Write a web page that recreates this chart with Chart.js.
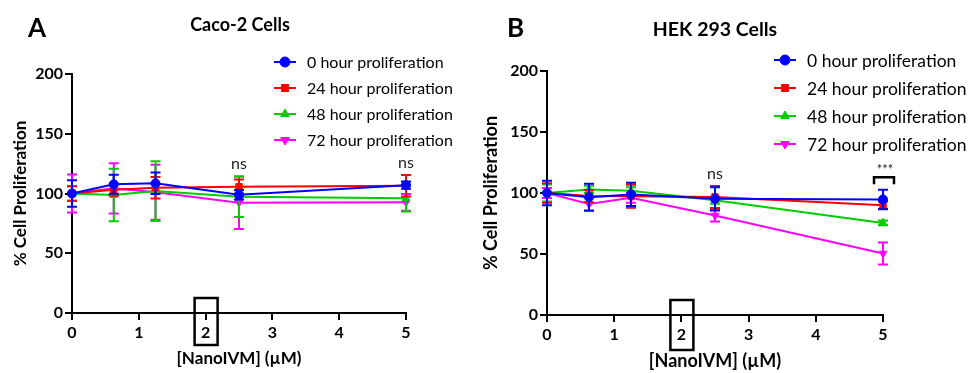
<!DOCTYPE html>
<html lang="en">
<head>
  <meta charset="UTF-8">
  <title>NanoIVM cell proliferation</title>
  <style>
    body { margin: 0; background: #fff; }
    .panel { position: absolute; top: 0; }
    #panelA { left: 0; }
    #panelB { left: 478px; }
  </style>
  <script src="https://cdn.jsdelivr.net/npm/chart.js"></script>
</head>
<body>
  <div class="panel" id="panelA"><canvas id="cacoChart" width="487" height="373"></canvas></div>
  <div class="panel" id="panelB"><canvas id="hekChart" width="496" height="373"></canvas></div>

  <script>
    // NanoIVM concentrations (µM)
    const doses = [0, 0.625, 1.25, 2.5, 5];
    const seriesNames = ['0 hour proliferation', '24 hour proliferation', '48 hour proliferation', '72 hour proliferation'];
    const xTicks = [0, 1, 2, 3, 4, 5];
    const yTicks = [0, 50, 100, 150, 200];

    // Caco-2 means and error (SD)
    const caco0h = [100, 107.7, 108.5, 99, 107];
    const caco24h = [100, 103.2, 104.9, 105.7, 106.5];
    const caco48h = [100, 98.7, 102, 97.3, 96];
    const caco72h = [100, 104.3, 101, 92.3, 92.6];
    const cacoErr0h = [11, 8, 9, 4, 3];
    const cacoErr24h = [6, 5, 9, 6, 9];
    const cacoErr48h = [6, 22, 25, 17, 11];
    const cacoErr72h = [16, 21, 23, 22, 7];

    // HEK 293 means and error (SD)
    const hek0h = [100, 96.6, 98.8, 95.2, 94.7];
    const hek24h = [100, 97.5, 97.4, 96.8, 90];
    const hek48h = [100, 102.9, 101.8, 94.1, 75.5];
    const hek72h = [100, 91, 96, 81.6, 50.4];
    const hekErr0h = [10, 11, 9.5, 9.6, 8];
    const hekErr24h = [8, 5, 9.4, 9, 3];
    const hekErr48h = [7, 3, 3, 3, 2];
    const hekErr72h = [4, 5.7, 4, 5, 9];

    const colors = ['#0000ff', '#ff0000', '#00cc00', '#ff00ff'];
    const shapes = ['circle', 'rect', 'triangle', 'triangle'];
    const rotations = [0, 0, 0, 180];
    const FONT = 'Lato, "Open Sans", sans-serif';
    const R = 4.5;

    function makeDatasets(means, errs) {
      return means.map((m, i) => ({
        label: seriesNames[i],
        data: doses.map((d, j) => ({ x: d, y: m[j] })),
        errors: errs[i],
        borderColor: colors[i],
        backgroundColor: colors[i],
        borderWidth: 2,
        pointStyle: shapes[i],
        rotation: rotations[i],
        pointRadius: R,
        pointHoverRadius: R,
        pointBorderWidth: 1,
        clip: false
      }));
    }

    // error bars, titles, custom legend and annotations
    const panelDeco = {
      id: 'panelDeco',
      afterDatasetDraw(chart, args) {
        const ds = chart.data.datasets[args.index];
        const { x: xs, y: ys } = chart.scales;
        const ctx = chart.ctx;
        ctx.save();
        ctx.strokeStyle = ds.borderColor;
        ctx.lineWidth = 2;
        ds.data.forEach((p, j) => {
          const e = ds.errors[j];
          const px = xs.getPixelForValue(p.x);
          const top = ys.getPixelForValue(p.y + e);
          const bot = ys.getPixelForValue(p.y - e);
          ctx.beginPath();
          ctx.moveTo(px, top); ctx.lineTo(px, bot);
          ctx.moveTo(px - 5, top); ctx.lineTo(px + 5, top);
          ctx.moveTo(px - 5, bot); ctx.lineTo(px + 5, bot);
          ctx.stroke();
        });
        ctx.restore();
      },
      afterDraw(chart, args, opts) {
        const ctx = chart.ctx;
        const { x: xs, y: ys } = chart.scales;
        ctx.save();
        ctx.fillStyle = '#000';
        ctx.textBaseline = 'middle';
        // panel letter
        ctx.font = 'bold 26px ' + FONT;
        ctx.textAlign = 'left';
        ctx.fillText(opts.letter, opts.letterX, opts.letterY);
        // title
        ctx.font = 'bold ' + opts.titleSize + 'px ' + FONT;
        ctx.textAlign = 'center';
        ctx.fillText(opts.title, opts.titleX, opts.titleY);

        // legend
        ctx.font = opts.legendSize + 'px ' + FONT;
        ctx.textAlign = 'left';
        chart.data.datasets.forEach((ds, i) => {
          const y = opts.legendY + i * opts.legendGap;
          const lx = opts.legendX;
          ctx.strokeStyle = ds.borderColor;
          ctx.fillStyle = ds.borderColor;
          ctx.lineWidth = 2;
          ctx.beginPath();
          ctx.moveTo(lx, y); ctx.lineTo(lx + 22, y);
          ctx.stroke();
          ctx.lineWidth = 1;
          Chart.helpers.drawPoint(ctx, { pointStyle: ds.pointStyle, rotation: ds.rotation, radius: R + 0.5, borderWidth: 1 }, lx + 11, y);
          ctx.fillStyle = '#000';
          ctx.fillText(ds.label, lx + 33, y + 1);
        });

        // significance labels
        ctx.font = '16px ' + FONT;
        ctx.textAlign = 'center';
        ctx.fillStyle = '#222';
        opts.marks.forEach(m => {
          const px = xs.getPixelForValue(m.x);
          const py = ys.getPixelForValue(m.y);
          if (m.bracket) {
            ctx.font = '13px ' + FONT;
            ctx.fillText(m.text, px + 2, py - 7);
            ctx.strokeStyle = '#000';
            ctx.lineWidth = 2.5;
            ctx.beginPath();
            ctx.moveTo(px - 9, py + 7); ctx.lineTo(px - 9, py); ctx.lineTo(px + 11, py); ctx.lineTo(px + 11, py + 7);
            ctx.stroke();
          } else {
            ctx.fillText(m.text, px, py);
          }
        });

        // box around the "2" tick
        const bx = xs.getPixelForValue(2);
        ctx.strokeStyle = '#000';
        ctx.lineWidth = 2.5;
        ctx.strokeRect(bx - 11, ys.bottom - 15, 23, opts.boxH);
        ctx.restore();
      }
    };

    function makeChart(id, means, errs, area, deco) {
      return new Chart(document.getElementById(id), {
        type: 'line',
        data: { datasets: makeDatasets(means, errs) },
        plugins: [panelDeco],
        options: {
          responsive: false,
          animation: false,
          layout: { padding: { left: 0, right: area.right, top: area.top, bottom: 0 } },
          plugins: { legend: { display: false }, tooltip: { enabled: false }, panelDeco: deco },
          scales: {
            x: {
              type: 'linear', min: 0, max: 5,
              afterFit: s => { s.height = area.xh; },
              afterBuildTicks: s => { s.ticks = xTicks.map(v => ({ value: v })); },
              grid: { drawOnChartArea: false, color: '#000', lineWidth: 2, tickLength: 7 },
              border: { color: '#000', width: 2 },
              ticks: { color: '#000', padding: 3, font: { family: FONT, size: 16, weight: 'bold' } },
              title: { display: true, text: '[NanoIVM] (µM)', color: '#000', padding: { bottom: area.xtp },
                font: { family: FONT, size: area.axisSize, weight: 'bold' } }
            },
            y: {
              min: 0, max: 200,
              afterFit: s => { s.width = area.yw; },
              afterBuildTicks: s => { s.ticks = yTicks.map(v => ({ value: v })); },
              grid: { drawOnChartArea: false, color: '#000', lineWidth: 2, tickLength: 7 },
              border: { color: '#000', width: 2 },
              ticks: { color: '#000', padding: 2, font: { family: FONT, size: 16, weight: 'bold' } },
              title: { display: true, text: '% Cell Proliferation', color: '#000', padding: { top: area.ytp },
                font: { family: FONT, size: area.axisSize, weight: 'bold' } }
            }
          }
        }
      });
    }

    makeChart('cacoChart',
      [caco0h, caco24h, caco48h, caco72h],
      [cacoErr0h, cacoErr24h, cacoErr48h, cacoErr72h],
      { right: 81, top: 74, xh: 60, yw: 72, xtp: 4, ytp: 10, axisSize: 17 },
      { letter: 'A', letterX: 28, letterY: 29, title: 'Caco-2 Cells', titleSize: 18, titleX: 240, titleY: 25,
        legendX: 274, legendY: 62, legendGap: 26, legendSize: 16, boxH: 47,
        marks: [{ x: 2.5, y: 125, text: 'ns' }, { x: 5, y: 126, text: 'ns' }] });

    makeChart('hekChart',
      [hek0h, hek24h, hek48h, hek72h],
      [hekErr0h, hekErr24h, hekErr48h, hekErr72h],
      { right: 91, top: 71, xh: 58, yw: 69, xtp: 1, ytp: 2, axisSize: 18 },
      { letter: 'B', letterX: 29, letterY: 29, title: 'HEK 293 Cells', titleSize: 19.5, titleX: 237, titleY: 30,
        legendX: 296, legendY: 60, legendGap: 28, legendSize: 17.5, boxH: 50,
        marks: [{ x: 2.5, y: 116, text: 'ns' }, { x: 5, y: 113, text: '***', bracket: true }] });
  </script>
</body>
</html>
